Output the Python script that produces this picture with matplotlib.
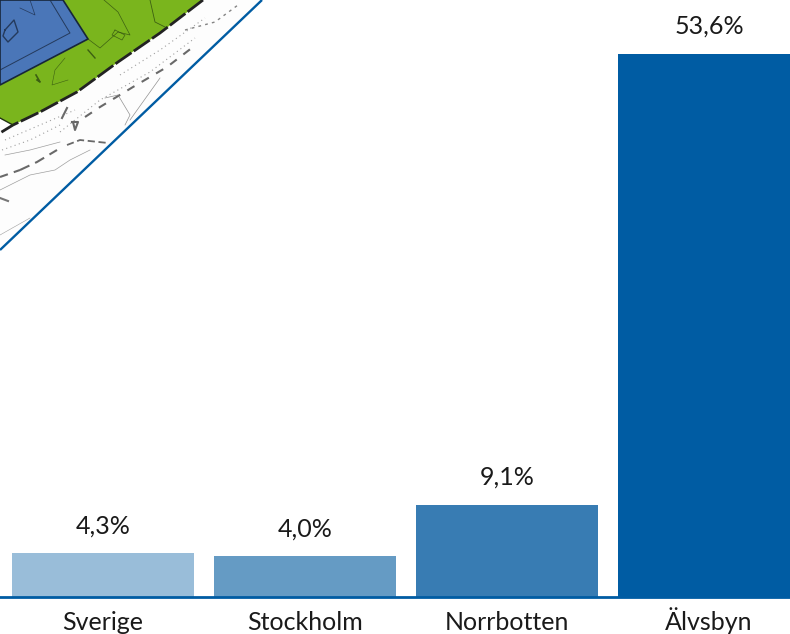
import matplotlib
matplotlib.use("Agg")
import matplotlib.pyplot as plt
from matplotlib.patches import Polygon

plt.rcParams['font.family'] = ['Lato', 'DejaVu Sans']

regions = ["Sverige", "Stockholm", "Norrbotten", "Älvsbyn"]
values = [4.3, 4.0, 9.1, 53.6]
value_labels = ["4,3%", "4,0%", "9,1%", "53,6%"]
colors = ["#99bdd9", "#659bc4", "#387cb3", "#005ca3"]

W, H = 790, 634
fig = plt.figure(figsize=(W/100, H/100), dpi=100)

# map corner, in pixel coordinates
mp = fig.add_axes([0, 0, 1, 1])
mp.set_xlim(0, W)
mp.set_ylim(H, 0)
mp.axis("off")

clip = Polygon([(0, 0), (262, 0), (0, 250)], transform=mp.transData, fc="none", ec="none")
mp.add_patch(clip)

def shape(pts, fc, ec="#1c2a1c", lw=0.8):
    p = Polygon(pts, fc=fc, ec=ec, lw=lw, zorder=1)
    mp.add_patch(p)
    p.set_clip_path(clip)

def sketch(xs, ys, lw=0.7, c="#555555", ls="-", alpha=0.8):
    l, = mp.plot(xs, ys, color=c, lw=lw, ls=ls, alpha=alpha, zorder=2)
    l.set_clip_path(clip)

shape([(0, 0), (262, 0), (0, 250)], "#fdfdfd", ec="none")
shape([(0, 0), (203, 0), (160, 33), (118, 62), (77, 92), (40, 112), (13, 125), (0, 118)], "#7ab51d", ec="none")
shape([(0, 0), (63, 0), (88, 39), (0, 85)], "#4a76b8", ec="#17263a", lw=1.2)

# plot edge
sketch([203, 160, 118, 77, 40, 13, 0], [0, 33, 62, 92, 112, 125, 133], lw=2, c="#222222", ls=(0, (7, 1)), alpha=1)
sketch([13, 0], [125, 118], lw=1, c="#223311", alpha=1)
# inner blue rim and contours
sketch([50, 70, 0], [0, 33, 70], lw=0.7, c="#1b2b45")
sketch([5, 14, 18, 8, 3, 5], [30, 20, 32, 42, 36, 30], lw=1, c="#1b2b45")
sketch([20, 35, 30], [8, 15, 0], lw=0.5, c="#1b2b45")
# green contours
sketch([88, 100, 118, 130, 118, 104], [39, 48, 32, 35, 12, 0], lw=0.5, c="#2d4a10")
sketch([115, 125, 122, 112, 115], [30, 35, 40, 35, 30], lw=0.5, c="#2d4a10")
sketch([150, 155, 165], [0, 22, 27], lw=0.6, c="#2d4a10")
sketch([65, 55, 52, 68], [58, 70, 85, 80], lw=0.4, c="#2d4a10")
sketch([36, 40, 37], [75, 82, 80], lw=1.2, c="#2d4a10")
sketch([88, 95], [50, 58], lw=1, c="#2d4a10")
# roads and buildings in the white area
sketch([0, 20], [177, 170], lw=1.5, c="#444444", ls=(0, (4, 3)))
sketch([20, 37, 57], [170, 162, 150], lw=1.5, c="#444444", ls=(0, (5, 3)))
sketch([67, 80, 108], [145, 140, 143], lw=1.3, c="#444444", ls=(0, (4, 2)))
sketch([85, 100, 133, 167, 193], [117, 107, 87, 67, 47], lw=1.5, c="#444444", ls=(0, (4, 4)))
sketch([67, 62], [108, 118], lw=1.5, c="#444444")
sketch([72, 78, 75, 73], [122, 122, 130, 122], lw=1.5, c="#444444")
sketch([185, 215, 238], [30, 22, 5], lw=1, c="#666666", ls=(0, (2, 3)))
sketch([5, 40, 75], [140, 125, 110], lw=0.8, c="#888888", ls=(0, (1, 3)))
sketch([2, 30, 60], [150, 140, 125], lw=0.8, c="#888888", ls=(0, (1, 3)))
sketch([60, 100, 150, 195], [132, 100, 72, 38], lw=0.8, c="#888888", ls=(0, (1, 3)))
sketch([120, 160, 205], [75, 50, 18], lw=0.8, c="#888888", ls=(0, (1, 3)))
sketch([0, 30, 55, 70, 90], [190, 175, 170, 160, 150], lw=0.5, c="#888888")
sketch([5, 30, 60], [155, 150, 142], lw=0.5, c="#888888")
sketch([105, 118, 130, 125], [98, 95, 115, 125], lw=0.5, c="#777777")
sketch([130, 155, 160], [120, 85, 78], lw=0.5, c="#777777")
sketch([0, 8], [198, 201], lw=1.5, c="#555555")
sketch([0, 30], [235, 218], lw=0.4, c="#888888")
mp.plot([262, 0], [0, 250], color="#005ca3", lw=1.7, zorder=3, solid_capstyle="butt")

# bars
ax = fig.add_axes([0, 0, 1, 1])
ax.patch.set_alpha(0)
unit = 202
scale = 10.13
ax.set_xlim(-103/unit, (W-103)/unit)
ax.set_ylim(-(H-597)/scale, 597/scale)
ax.axis("off")
xpos = range(len(regions))
ax.bar(xpos, values, width=182/unit, color=colors, zorder=2)
ax.axhline(0, color="#005ca3", lw=2, zorder=3)
for x, v, vl, r in zip(xpos, values, value_labels, regions):
    ax.annotate(vl, (x, v), xytext=(0, 14.4), textcoords="offset points", ha="center", va="baseline",
                fontsize=18, color="#1a1a1a")
    ax.annotate(r, (x, 0), xytext=(0, -23.8), textcoords="offset points", ha="center", va="baseline",
                fontsize=18, color="#1a1a1a")

fig.savefig("out.png", dpi=100)
